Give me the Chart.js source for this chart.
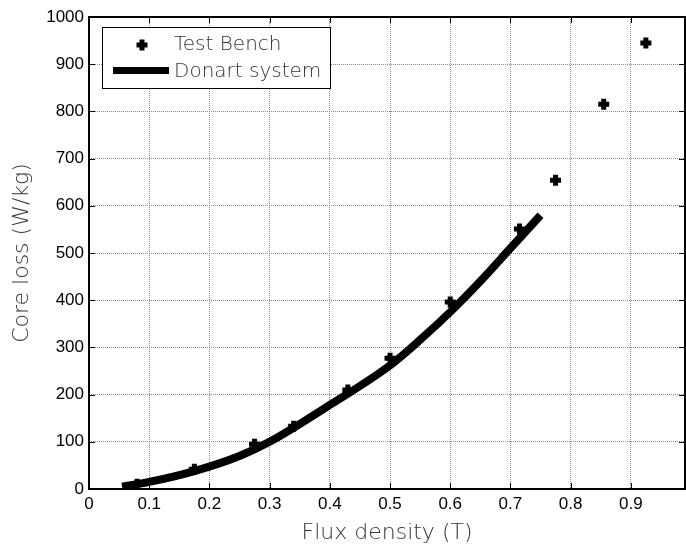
<!DOCTYPE html>
<html>
<head>
<meta charset="utf-8">
<script src="https://cdn.jsdelivr.net/npm/chart.js@4.4.1/dist/chart.umd.min.js"></script>
<style>
  html, body { margin: 0; padding: 0; background: #fff; }
  #wrap { width: 686px; height: 546px; }
</style>
</head>
<body>
<div id="wrap"><canvas id="myChart" width="686" height="546"></canvas></div>
<script>
// measured points (test bench)
const benchFlux = [0.08, 0.175, 0.275, 0.34, 0.43, 0.5, 0.6, 0.715, 0.775, 0.855, 0.925];
const benchLoss = [10, 42, 95, 133, 210, 277, 396, 551, 654, 815, 945];
// Donart system curve
const donartFlux = [0.055, 0.1, 0.175, 0.25, 0.3, 0.4, 0.5, 0.55, 0.6, 0.65, 0.7, 0.75];
const donartLoss = [5, 15, 38, 70, 100, 178, 262, 316, 375, 440, 510, 580];
// ticks
const xTicks = [0, 0.1, 0.2, 0.3, 0.4, 0.5, 0.6, 0.7, 0.8, 0.9];
const yTicks = [0, 100, 200, 300, 400, 500, 600, 700, 800, 900, 1000];

const tickFont = {family: "'Liberation Sans', Arial, sans-serif", size: 17};
const titleFont = {family: "'DejaVu Sans', Verdana, sans-serif", size: 22, weight: 200};

//frame, inner tick marks and the legend box, drawn on top of the plot
const framePlugin = {
  id: 'frame',
  afterDatasetsDraw(chart) {
    const {ctx, chartArea: a, scales: {x, y}} = chart;
    ctx.save();
    ctx.strokeStyle = '#000';
    ctx.lineWidth = 1;
    ctx.beginPath();
    xTicks.forEach(v => {
      const px = Math.round(x.getPixelForValue(v)) + 0.5;
      ctx.moveTo(px, a.bottom); ctx.lineTo(px, a.bottom - 6);
      ctx.moveTo(px, a.top); ctx.lineTo(px, a.top + 6);
    });
    yTicks.forEach(v => {
      const py = Math.round(y.getPixelForValue(v)) + 0.5;
      ctx.moveTo(a.left, py); ctx.lineTo(a.left + 6, py);
      ctx.moveTo(a.right, py); ctx.lineTo(a.right - 6, py);
    });
    ctx.stroke();
    ctx.lineWidth = 2;
    ctx.strokeRect(a.left, a.top, a.right - a.left, a.bottom - a.top);

    //legend
    const lx = a.left + 13, ly = a.top + 10, lw = 228, lh = 61;
    ctx.fillStyle = '#fff';
    ctx.fillRect(lx, ly, lw, lh);
    ctx.lineWidth = 1;
    ctx.strokeRect(lx + 0.5, ly + 0.5, lw, lh);
    drawPlus(ctx, lx + 40, ly + 18);
    ctx.fillStyle = '#000';
    ctx.fillRect(lx + 11, ly + 40, 56, 7);
    ctx.fillStyle = '#333';
    ctx.font = "200 20px 'DejaVu Sans', Verdana, sans-serif";
    ctx.textBaseline = 'middle';
    ctx.fillText('Test Bench', lx + 72, ly + 18);
    ctx.fillText('Donart system', lx + 72, ly + 45);
    ctx.restore();
  }
};

function drawPlus(ctx, cx, cy) {
  ctx.save();
  ctx.strokeStyle = '#000';
  ctx.lineWidth = 5;
  ctx.beginPath();
  ctx.moveTo(cx - 5.5, cy); ctx.lineTo(cx + 5.5, cy);
  ctx.moveTo(cx, cy - 5.5); ctx.lineTo(cx, cy + 5.5);
  ctx.stroke();
  ctx.restore();
}

const ctx = document.getElementById('myChart');
const chart1 = new Chart(ctx, {
  type: 'scatter',
  data: {
    datasets: [{
      label: 'Donart system',
      data: donartFlux.map((f, i) => ({x: f, y: donartLoss[i]})),
      showLine: true,
      borderColor: '#000',
      borderWidth: 8,
      borderCapStyle: 'butt',
      pointRadius: 0,
      cubicInterpolationMode: 'monotone',
      order: 2
    }, {
      label: 'Test Bench',
      data: benchFlux.map((f, i) => ({x: f, y: benchLoss[i]})),
      pointStyle: 'cross',
      pointRadius: 5.5,
      borderColor: '#000',
      borderWidth: 5,
      order: 1
    }]
  },
  options: {
    responsive: false,
    animation: false,
    layout: {autoPadding: false, padding: {top: 17, right: 1, left: 0, bottom: 0}},
    plugins: {legend: {display: false}, tooltip: {enabled: false}},
    scales: {
      x: {
        type: 'linear', min: 0, max: 0.99,
        afterBuildTicks: s => { s.ticks = xTicks.map(v => ({value: v})); },
        afterFit: s => { s.height = 57; },
        ticks: {color: '#000', font: tickFont, padding: 5, callback: v => String(v)},
        grid: {color: '#888', drawTicks: false, lineWidth: 1},
        border: {display: false, dash: [1, 1]},
        title: {display: true, text: 'Flux density (T)', color: '#333', font: titleFont, padding: {top: 0, bottom: 0}}
      },
      y: {
        type: 'linear', min: 0, max: 1000,
        afterBuildTicks: s => { s.ticks = yTicks.map(v => ({value: v})); },
        afterFit: s => { s.width = 89; },
        ticks: {color: '#000', font: tickFont, padding: 5, callback: v => String(v)},
        grid: {color: '#888', drawTicks: false, lineWidth: 1},
        border: {display: false, dash: [1, 1]},
        title: {display: true, text: 'Core loss (W/kg)', color: '#333', font: titleFont, padding: {top: 9, bottom: 0}}
      }
    }
  },
  plugins: [framePlugin]
});
</script>
</body>
</html>
